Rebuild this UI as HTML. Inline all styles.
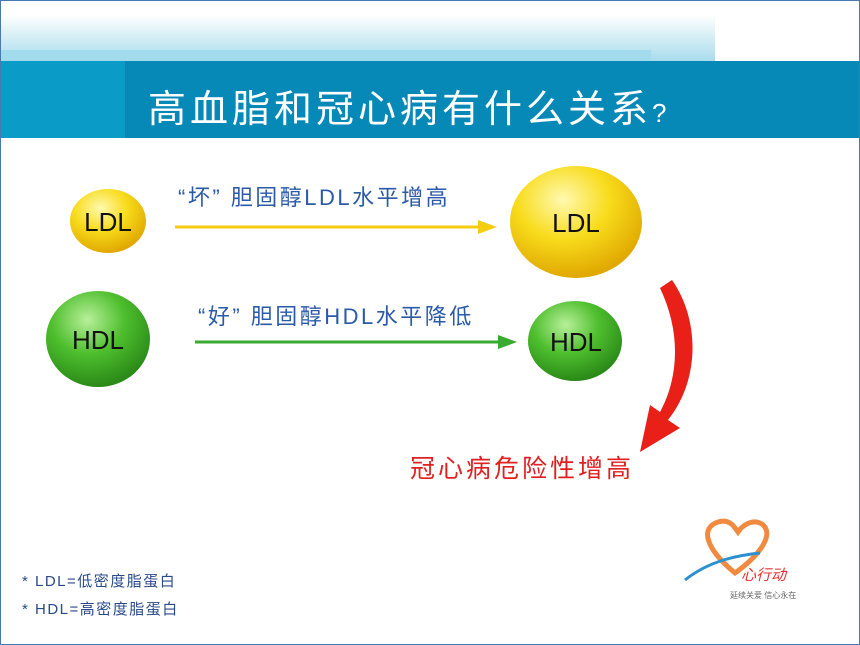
<!DOCTYPE html>
<html><head><meta charset="utf-8"><style>
body{margin:0;width:860px;height:645px;overflow:hidden;background:#fff;font-family:"Liberation Sans","Noto Sans CJK SC",sans-serif;position:relative}
.abs{position:absolute}
</style></head><body>
<div class="abs" style="left:0;top:0;width:858px;height:643px;border:1px solid #4a78b0"></div>
<div class="abs" style="left:1px;top:15px;width:714px;height:46px;background:linear-gradient(#fff,#a8dcec)"></div>
<div class="abs" style="left:1px;top:50px;width:650px;height:11px;background:#a2dbeb"></div>
<div class="abs" style="left:1px;top:61px;width:858px;height:77px;background:#0789b8"></div>
<div class="abs" style="left:1px;top:61px;width:124px;height:77px;background:#0a9cc6"></div>
<div class="abs" style="left:148px;top:78px;color:#fff;font-size:38px;letter-spacing:4px;white-space:nowrap">高血脂和冠心病有什么关系<span style="font-size:26px">?</span></div>
<svg class="abs" style="left:0;top:0" width="860" height="645">
<defs>
<radialGradient id="y" cx="40%" cy="30%" r="70%"><stop offset="0" stop-color="#fff9b0"/><stop offset="0.5" stop-color="#f8dc1c"/><stop offset="1" stop-color="#e0a800"/></radialGradient>
<radialGradient id="g" cx="40%" cy="30%" r="70%"><stop offset="0" stop-color="#b8ef9a"/><stop offset="0.5" stop-color="#4fbf2e"/><stop offset="1" stop-color="#2a8a18"/></radialGradient>
</defs>
<ellipse cx="108" cy="221" rx="38" ry="32" fill="url(#y)"/>
<ellipse cx="576" cy="222" rx="66" ry="56" fill="url(#y)"/>
<ellipse cx="98" cy="339" rx="52" ry="48" fill="url(#g)"/>
<ellipse cx="575" cy="341" rx="47" ry="40" fill="url(#g)"/>
<line x1="175" y1="227" x2="480" y2="227" stroke="#f5cc10" stroke-width="3"/>
<polygon points="478,220 497,227 478,234" fill="#f5cc10"/>
<line x1="195" y1="342" x2="500" y2="342" stroke="#3aaa30" stroke-width="3"/>
<polygon points="498,335 517,342 498,349" fill="#3aaa30"/>
<path d="M672,280 C700,320 700,380 668,420 L680,428 L640,452 L650,405 L660,412 C680,375 680,330 660,288 Z" fill="#e82018"/>
<g font-size="26" fill="#111" text-anchor="middle">
<text x="108" y="231">LDL</text><text x="576" y="232">LDL</text>
<text x="98" y="349">HDL</text><text x="576" y="351">HDL</text>
</g>
<text x="178" y="205" font-size="22" letter-spacing="2.5" fill="#2a5aa8">“坏” 胆固醇LDL水平增高</text>
<text x="198" y="324" font-size="22" letter-spacing="2.5" fill="#2a5aa8">“好” 胆固醇HDL水平降低</text>
<text x="410" y="477" font-size="25" letter-spacing="3" fill="#e02020">冠心病危险性增高</text>
<text x="22" y="586" font-size="15" letter-spacing="1.5" fill="#2a4a8a">* LDL=低密度脂蛋白</text>
<text x="22" y="614" font-size="15" letter-spacing="1.5" fill="#2a4a8a">* HDL=高密度脂蛋白</text>
<path d="M735,573 C705,548 700,528 718,522 C730,518 735,528 738,532 C742,526 752,518 762,524 C775,534 760,555 735,573Z" fill="none" stroke="#f08a40" stroke-width="5"/>
<path d="M685,580 C710,560 740,555 760,553" fill="none" stroke="#2a90d0" stroke-width="3"/>
<text x="741" y="580" font-size="15" font-style="italic" fill="#e83030">心行动</text>
<text x="730" y="598" font-size="8" fill="#666">延续关爱 信心永在</text>
</svg>
</body></html>
